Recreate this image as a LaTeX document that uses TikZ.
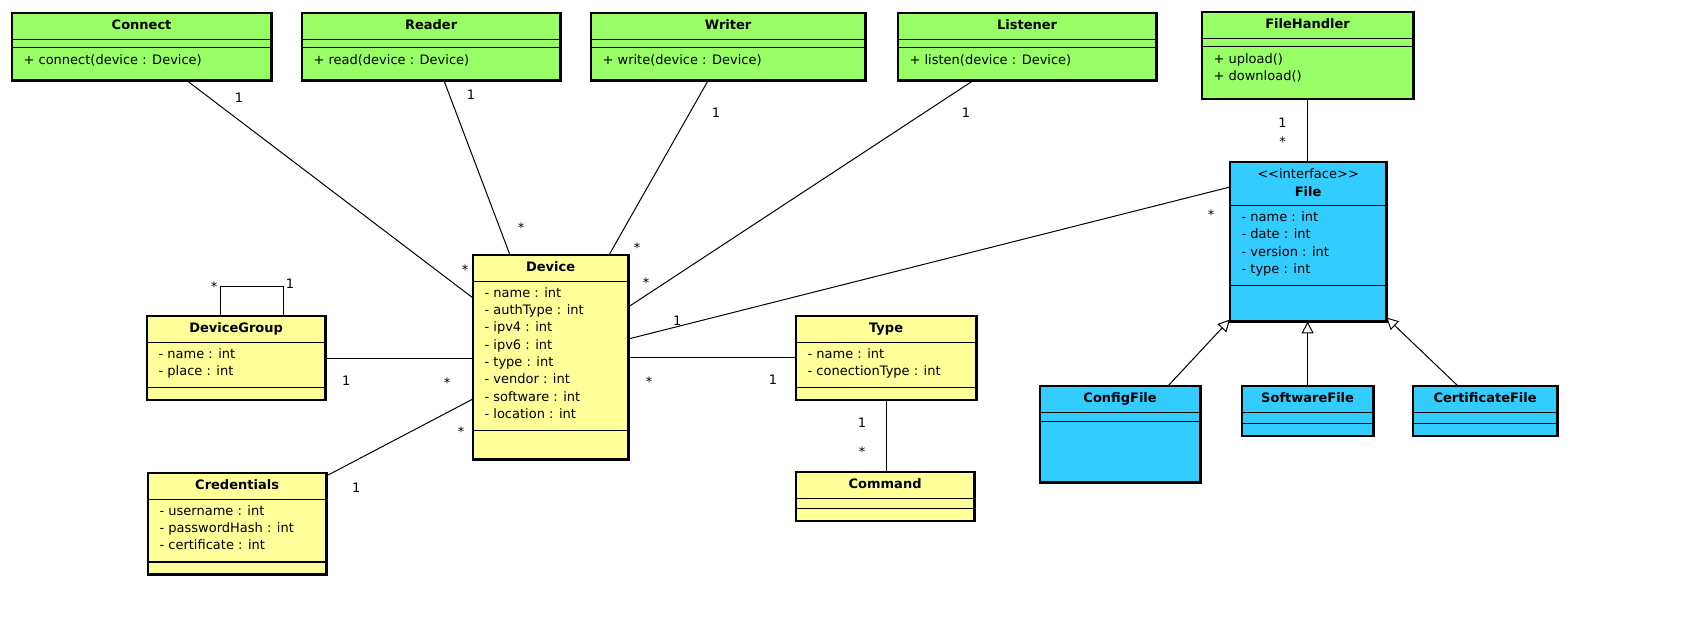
\documentclass[tikz,border=0pt]{standalone}
\usepackage{fontspec}
\setmainfont{DejaVu Sans}
\definecolor{servicecomponent}{RGB}{153, 255, 102}
\definecolor{modelcomponent}{RGB}{255, 255, 153}
\definecolor{filecomponent}{RGB}{51, 204, 255}
\usetikzlibrary{positioning, shapes.multipart, arrows.meta, calc}
\newcommand{\opsgap}[1][12pt]{\rule[-#1]{0pt}{#1}}
\newcommand{\attrgap}{\rule[-8pt]{0pt}{8pt}}
\newcommand{\blankpart}[1]{\rule{0pt}{#1}}
\begin{document}
\begin{tikzpicture}[x=1pt, y=-1pt,
		umlclass/.style={draw, line width=1.2pt, rectangle split, rectangle split parts=3,
			rectangle split part align={center,left,left}, inner xsep=11pt, inner ysep=3.5pt,
			anchor=north west, align=left, font=\fontsize{13}{17.3}\selectfont},
		service/.style={umlclass, fill=servicecomponent},
		model/.style={umlclass, fill=modelcomponent},
		filebox/.style={umlclass, fill=filecomponent},
		frame/.style={line width=2.6pt},
		assoc/.style={line width=1pt},
		mult/.style={font=\fontsize{13}{15}\selectfont, inner sep=0pt},
		star/.style={mult, yshift=-2pt},
		realize/.style={line width=1pt, -{Triangle[open, fill=white, length=12pt, width=12pt]}}
		]
		\useasboundingbox (0,0) rectangle (1682,632);
		
		\node[service, minimum width=258pt] at (12,13) (con) {\strut\textbf{Connect}
			\nodepart{two}\blankpart{0.5pt}
			\nodepart{three}\strut+ connect(device : Device)\opsgap};
		\node[service, minimum width=257pt] at (302,13) (rea) {\strut\textbf{Reader}
			\nodepart{two}\blankpart{0.5pt}
			\nodepart{three}\strut+ read(device : Device)\opsgap};
		\node[service, minimum width=273pt] at (591,13) (wri) {\strut\textbf{Writer}
			\nodepart{two}\blankpart{0.5pt}
			\nodepart{three}\strut+ write(device : Device)\opsgap};
		\node[service, minimum width=257pt] at (898,13) (lis) {\strut\textbf{Listener}
			\nodepart{two}\blankpart{0.5pt}
			\nodepart{three}\strut+ listen(device : Device)\opsgap};
		\node[service, minimum width=210pt] at (1202,12) (fh) {\strut\textbf{FileHandler}
			\nodepart{two}\blankpart{0.5pt}
			\nodepart{three}\strut+ upload()\\ + download()\strut\opsgap[14pt]};
		
		\node[filebox, minimum width=155pt] at (1230,162) (file) {\strut<{}<interface>{}>\\ \hfill\textbf{File}\hfill\strut
			\nodepart{two}\strut- name : int\\ - date : int\\ - version : int\\ - type : int\attrgap
			\nodepart{three}\blankpart{27pt}};
		\node[filebox, minimum width=159pt] at (1040,386) (cfg) {\strut\textbf{ConfigFile}
			\nodepart{two}\blankpart{1.5pt}
			\nodepart{three}\blankpart{52pt}};
		\node[filebox, minimum width=130pt] at (1242,386) (sw) {\strut\textbf{SoftwareFile}
			\nodepart{two}\blankpart{3pt}
			\nodepart{three}\blankpart{4pt}};
		\node[filebox, minimum width=143pt] at (1413,386) (cert) {\strut\textbf{CertificateFile}
			\nodepart{two}\blankpart{3pt}
			\nodepart{three}\blankpart{4pt}};
		
		\node[model, minimum width=154pt] at (473,255) (dev) {\strut\textbf{Device}
			\nodepart{two}\strut- name : int\\ - authType : int\\ - ipv4 : int\\ - ipv6 : int\\
			- type : int\\ - vendor : int\\ - software : int\\ - location : int\attrgap
			\nodepart{three}\blankpart{20pt}};
		\node[model, minimum width=177pt] at (147,316) (grp) {\strut\textbf{DeviceGroup}
			\nodepart{two}\strut- name : int\\ - place : int\attrgap
			\nodepart{three}\blankpart{3.5pt}};
		\node[model, minimum width=177pt] at (148,473) (cred) {\strut\textbf{Credentials}
			\nodepart{two}\strut- username : int\\ - passwordHash : int\\ - certificate : int\attrgap
			\nodepart{three}\blankpart{3.5pt}};
		\node[model, minimum width=179pt] at (796,316) (type) {\strut\textbf{Type}
			\nodepart{two}\strut- name : int\\ - conectionType : int\attrgap
			\nodepart{three}\blankpart{3.5pt}};
		\node[model, minimum width=177pt, below=72pt of type.south west, anchor=north west] (cmd) {\strut\textbf{Command}
			\nodepart{two}\blankpart{2.5pt}
			\nodepart{three}\blankpart{3.5pt}};
		
		\foreach \n in {con,rea,wri,lis,fh,file,cfg,sw,cert,dev,grp,cred,type,cmd}{
			\draw[frame] (\n.south west) rectangle (\n.north east);
		}
		
		% associations
		\draw[assoc] ([xshift=175pt]con.south west) node[mult, xshift=52pt, yshift=-17pt]{1}
			-- ([yshift=-43pt]dev.north west) node[star, xshift=-8pt, yshift=30pt]{*};
		\draw[assoc] ([xshift=142pt]rea.south west) node[mult, xshift=27pt, yshift=-14pt]{1}
			-- ([xshift=37pt]dev.north west) node[star, xshift=11pt, yshift=29pt]{*};
		\draw[assoc] ([xshift=117pt]wri.south west) node[mult, xshift=8pt, yshift=-32pt]{1}
			-- ([xshift=136pt]dev.north west) node[star, xshift=28pt, yshift=9pt]{*};
		\draw[assoc] ([xshift=75pt]lis.south west) node[mult, xshift=-7pt, yshift=-32pt]{1}
			-- ([yshift=-52pt]dev.north east) node[star, xshift=18pt, yshift=26pt]{*};
		\draw[assoc] ([yshift=-84pt]dev.north east) node[mult, xshift=49pt, yshift=18pt]{1}
			-- ([yshift=-25pt]file.north west) node[star, xshift=-19pt, yshift=-26pt]{*};
		\draw[assoc] (dev.east) node[star, xshift=21pt, yshift=-23pt]{*}
			-- (dev.east -| type.west) node[mult, xshift=-23pt, yshift=-23pt]{1};
		\draw[assoc] (grp.east) node[mult, xshift=21pt, yshift=-23pt]{1}
			-- (grp.east -| dev.west) node[star, xshift=-26pt, yshift=-23pt]{*};
		\draw[assoc] ([yshift=-3pt]cred.north east) node[mult, xshift=30pt, yshift=-12pt]{1}
			-- ([yshift=-144pt]dev.north west) node[star, xshift=-12pt, yshift=-31pt]{*};
		\draw[assoc] ([xshift=73pt]grp.north west) node[star, xshift=-6pt, yshift=31pt]{*}
			-- ++(0,-30) -| ([xshift=136pt]grp.north west) node[mult, xshift=7pt, yshift=32pt]{1};
		\draw[assoc] (type.south) node[mult, xshift=-24pt, yshift=-23pt]{1}
			-- (type.south |- cmd.north) node[star, xshift=-24pt, yshift=22pt]{*};
		\draw[assoc] (fh.south) node[mult, xshift=-25pt, yshift=-24pt]{1}
			-- (fh.south |- file.north) node[star, xshift=-25pt, yshift=22pt]{*};
		
		% realizations
		\draw[realize] ([xshift=128pt]cfg.north west) -- ([yshift=2pt]file.south west);
		\draw[realize] (sw.north) -- (sw.north |- file.south);
		\draw[realize] ([xshift=45pt]cert.north west) -- ([yshift=4pt]file.south east);
		
	\end{tikzpicture}
\end{document}
